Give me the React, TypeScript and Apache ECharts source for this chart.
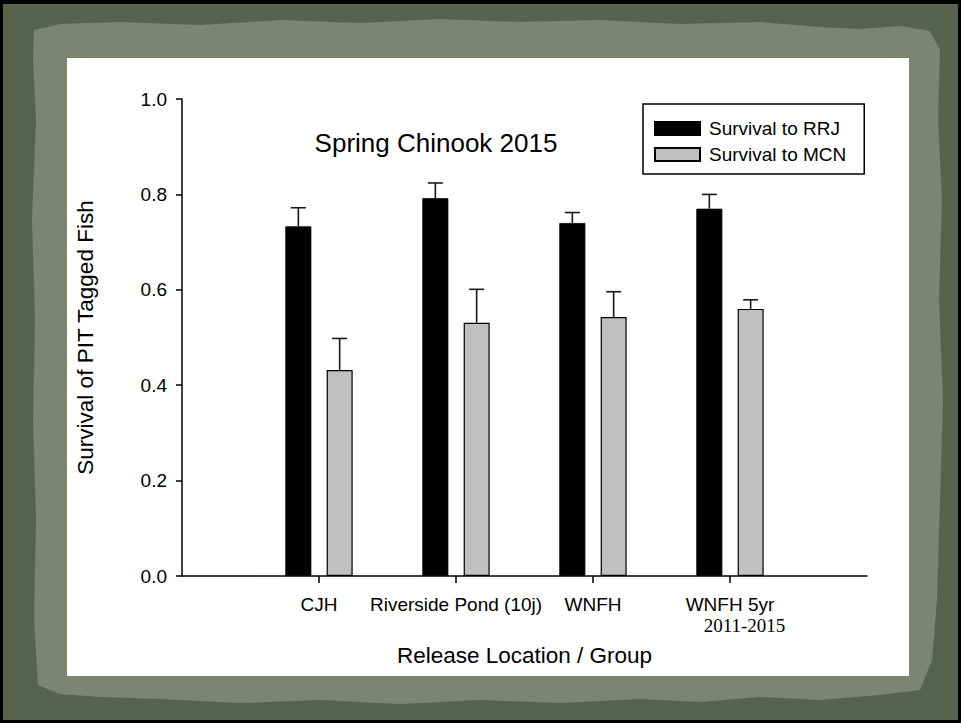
import React, { useEffect, useRef } from 'react';
import * as echarts from 'echarts';

// ---------- data ----------
const categories = ['CJH', 'Riverside Pond (10j)', 'WNFH', 'WNFH 5yr'];
const categorySubLabels = ['', '', '', '2011-2015'];
const positions = [1, 2, 3, 4];
const seriesNames = ['Survival to RRJ', 'Survival to MCN'];
const rrj = [0.733, 0.792, 0.74, 0.77];
const rrjErr = [0.039, 0.032, 0.022, 0.03];
const mcn = [0.432, 0.531, 0.543, 0.56];
const mcnErr = [0.066, 0.07, 0.053, 0.019];
const chartTitle = 'Spring Chinook 2015';
const xName = 'Release Location / Group';
const yName = 'Survival of PIT Tagged Fish';

// ---------- style constants ----------
const FONT = '"Liberation Sans", Arial, sans-serif';
const SERIF = '"Liberation Serif", "DejaVu Serif", serif';
const BAR_W = 26;
const BAR_OFFSET = 20.65;
const CAP = 15;

const framePoints = [
  [34, 30], [60, 24], [120, 22], [200, 25], [280, 20], [360, 23], [440, 19], [520, 22], [600, 20],
  [680, 24], [760, 22], [820, 27], [860, 29], [900, 26], [930, 31],
  [940, 50], [938, 120], [942, 200], [939, 300], [943, 400], [940, 500], [937, 600], [932, 660], [920, 690],
  [880, 695], [820, 700], [760, 697], [700, 702], [640, 699], [560, 703], [480, 700], [400, 704],
  [320, 700], [240, 703], [160, 699], [100, 697], [60, 694], [38, 685],
  [34, 620], [36, 520], [33, 420], [35, 320], [32, 220], [36, 120], [33, 60],
];

function errRenderer(offset: number) {
  return (params: any, api: any) => {
    const x = api.value(0);
    const y = api.value(1);
    const e = api.value(2);
    const p0 = api.coord([x, y]);
    const p1 = api.coord([x, y + e]);
    const cx = p0[0] + offset;
    const st = { stroke: '#1a1a1a', lineWidth: 1.6 };
    return {
      type: 'group',
      children: [
        { type: 'line', shape: { x1: cx, y1: p0[1], x2: cx, y2: p1[1] }, style: st },
        { type: 'line', shape: { x1: cx - CAP / 2, y1: p1[1], x2: cx + CAP / 2, y2: p1[1] }, style: st },
      ],
    };
  };
}

export default function App() {
  const ref = useRef<HTMLDivElement>(null);

  useEffect(() => {
    document.body.style.margin = '0';
    if (!ref.current) return;
    const chart = echarts.init(ref.current, undefined, { renderer: 'svg' });

    const option: any = {
      animation: false,
      backgroundColor: '#000',
      graphic: [
        { type: 'rect', z: -20, silent: true, shape: { x: 3, y: 4, width: 955, height: 716 }, style: { fill: '#58634d' } },
        { type: 'polygon', z: -19, silent: true, shape: { points: framePoints }, style: { fill: '#7c8572' } },
        { type: 'rect', z: -18, silent: true, shape: { x: 67, y: 58, width: 842, height: 618 }, style: { fill: '#ffffff' } },
      ],
      title: {
        text: chartTitle,
        left: 436,
        top: 130,
        textAlign: 'center',
        padding: 0,
        textStyle: { fontFamily: FONT, fontSize: 26, fontWeight: 'normal', color: '#000' },
      },
      legend: {
        orient: 'vertical',
        left: 643,
        top: 104,
        itemWidth: 45,
        itemHeight: 13,
        itemGap: 7,
        icon: 'rect',
        padding: [15, 18, 10, 11],
        borderColor: '#000',
        borderWidth: 1.5,
        borderRadius: 0,
        backgroundColor: '#fff',
        data: seriesNames,
        textStyle: { fontFamily: FONT, fontSize: 19, color: '#000', padding: [0, 0, 0, 4] },
      },
      grid: { left: 182, right: 94, top: 99, bottom: 147 },
      xAxis: {
        type: 'value',
        min: 0,
        max: 5,
        name: xName,
        nameLocation: 'middle',
        nameGap: 68,
        nameTextStyle: { fontFamily: FONT, fontSize: 22.5, color: '#000' },
        axisLine: { show: true, lineStyle: { color: '#000', width: 1.5 } },
        axisTick: { show: true, length: 7, lineStyle: { color: '#000', width: 1.5 }, customValues: positions },
        axisLabel: {
          customValues: positions,
          margin: 19,
          color: '#000',
          formatter: (v: number) => {
            const i = positions.indexOf(v);
            if (i < 0) return '';
            const sub = categorySubLabels[i];
            return sub ? `{a|${categories[i]}}\n{b|${sub}}` : `{a|${categories[i]}}`;
          },
          rich: {
            a: { fontFamily: FONT, fontSize: 19, lineHeight: 19, color: '#000' },
            b: { fontFamily: SERIF, fontSize: 19, lineHeight: 22, color: '#000', padding: [0, 0, 0, 29] },
          },
        },
        splitLine: { show: false },
      },
      yAxis: {
        type: 'value',
        min: 0,
        max: 1,
        interval: 0.2,
        name: yName,
        nameLocation: 'middle',
        nameGap: 85,
        nameTextStyle: { fontFamily: FONT, fontSize: 22.5, color: '#000' },
        axisLine: { show: true, lineStyle: { color: '#000', width: 1.5 } },
        axisTick: { show: true, length: 6, lineStyle: { color: '#000', width: 1.5 } },
        axisLabel: {
          margin: 15,
          fontFamily: FONT,
          fontSize: 19,
          color: '#000',
          formatter: (v: number) => v.toFixed(1),
        },
        splitLine: { show: false },
      },
      series: [
        {
          name: seriesNames[0],
          type: 'bar',
          barWidth: BAR_W,
          barGap: '59%',
          data: positions.map((p, i) => [p, rrj[i]]),
          itemStyle: { color: '#000', borderColor: '#000', borderWidth: 0.8 },
          z: 2,
        },
        {
          name: seriesNames[1],
          type: 'bar',
          barWidth: BAR_W,
          barGap: '59%',
          data: positions.map((p, i) => [p, mcn[i]]),
          itemStyle: { color: '#c0c0c0', borderColor: '#000', borderWidth: 1.2 },
          z: 2,
        },
        {
          name: 'RRJ error',
          type: 'custom',
          renderItem: errRenderer(-BAR_OFFSET),
          data: positions.map((p, i) => [p, rrj[i], rrjErr[i]]),
          encode: { x: 0, y: 1 },
          z: 3,
          silent: true,
        },
        {
          name: 'MCN error',
          type: 'custom',
          renderItem: errRenderer(BAR_OFFSET),
          data: positions.map((p, i) => [p, mcn[i], mcnErr[i]]),
          encode: { x: 0, y: 1 },
          z: 3,
          silent: true,
        },
      ],
    };

    chart.setOption(option);
    return () => chart.dispose();
  }, []);

  return <div ref={ref} style={{ width: 961, height: 723 }} />;
}
